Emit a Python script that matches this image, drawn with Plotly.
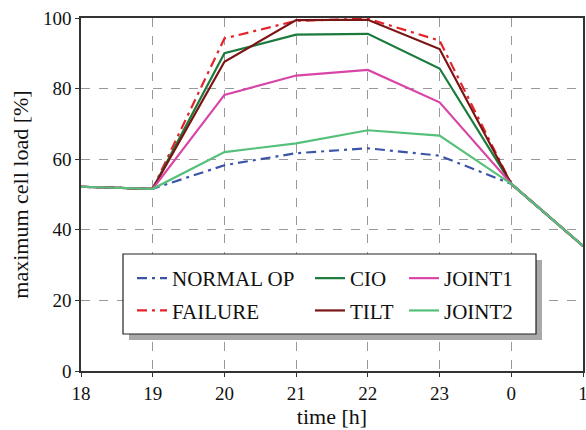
import plotly.graph_objects as go

hours = ["18", "19", "20", "21", "22", "23", "0", "1"]
xpos = list(range(len(hours)))

normal_op = [52.2, 51.6, 58.3, 61.7, 63.1, 61.0, 53.0, 35.4]
failure   = [52.2, 51.6, 94.2, 99.2, 99.8, 93.6, 53.0, 35.4]
cio       = [52.2, 51.6, 90.0, 95.3, 95.5, 85.7, 53.0, 35.4]
tilt      = [52.2, 51.6, 87.6, 99.4, 99.5, 91.2, 53.0, 35.4]
joint1    = [52.2, 51.6, 78.2, 83.7, 85.3, 76.1, 53.0, 35.4]
joint2    = [52.2, 51.6, 62.0, 64.5, 68.2, 66.7, 53.0, 35.4]

FONT = "Liberation Serif"
series = [
    ("NORMAL OP", normal_op, "#3a55a8", "10px,5px,3px,5px", "legend", 1),
    ("FAILURE", failure, "#e5232b", "10px,5px,3px,5px", "legend", 2),
    ("CIO", cio, "#1b7a3c", "solid", "legend2", 1),
    ("TILT", tilt, "#7b1414", "solid", "legend2", 2),
    ("JOINT1", joint1, "#d845a6", "solid", "legend3", 1),
    ("JOINT2", joint2, "#55c07a", "solid", "legend3", 2),
]

fig = go.Figure()
for name, vals, col, dash, leg, rank in series:
    fig.add_trace(go.Scatter(
        x=xpos, y=vals, mode="lines", name=name,
        line=dict(color=col, width=2.2, dash=dash),
        legend=leg, legendrank=rank, legendgroup=name,
    ))

def px_x(p):
    return (p - 81) / 502
def px_y(p):
    return (371 - p) / 353

shapes = [
    dict(type="rect", xref="paper", yref="paper", layer="above",
         x0=px_x(129), x1=px_x(542), y0=px_y(340), y1=px_y(260),
         fillcolor="#a9a9a9", line=dict(width=0)),
    dict(type="rect", xref="paper", yref="paper", layer="above",
         x0=px_x(123), x1=px_x(536), y0=px_y(334), y1=px_y(254),
         fillcolor="white", line=dict(color="#222", width=1.2)),
]

legcommon = dict(orientation="v", bgcolor="rgba(0,0,0,0)", borderwidth=0,
                 font=dict(family=FONT, size=21, color="#111"),
                 xanchor="left", yanchor="top", tracegroupgap=2,
                 itemwidth=30)

fig.update_layout(
    width=586, height=430,
    margin=dict(l=81, r=3, t=18, b=59),
    paper_bgcolor="white", plot_bgcolor="white",
    font=dict(family=FONT, size=19, color="#111"),
    showlegend=True,
    legend=dict(x=px_x(132), y=px_y(258), **legcommon),
    legend2=dict(x=px_x(310), y=px_y(258), **legcommon),
    legend3=dict(x=px_x(404), y=px_y(258), **legcommon),
    shapes=shapes,
    xaxis=dict(
        range=[0, 7], tickvals=xpos, ticktext=hours,
        showgrid=True, gridcolor="#999", griddash="dash", gridwidth=1,
        showline=True, linecolor="#333", linewidth=1.5, mirror=True,
        ticks="outside", ticklen=4, tickcolor="#333",
        zeroline=False, automargin=False, ticklabeloverflow="allow",
        title=dict(text="time [h]", standoff=4, font=dict(family=FONT, size=22)),
        tickfont=dict(family=FONT, size=19),
    ),
    yaxis=dict(
        range=[0, 100], tickvals=[0, 20, 40, 60, 80, 100],
        showgrid=True, gridcolor="#999", griddash="dash", gridwidth=1,
        showline=True, linecolor="#333", linewidth=1.5, mirror=True,
        ticks="outside", ticklen=4, tickcolor="#333",
        zeroline=False, automargin=False,
        title=dict(text="maximum cell load [%]", standoff=8, font=dict(family=FONT, size=22)),
        tickfont=dict(family=FONT, size=19),
    ),
)

fig.write_html("out.html")
